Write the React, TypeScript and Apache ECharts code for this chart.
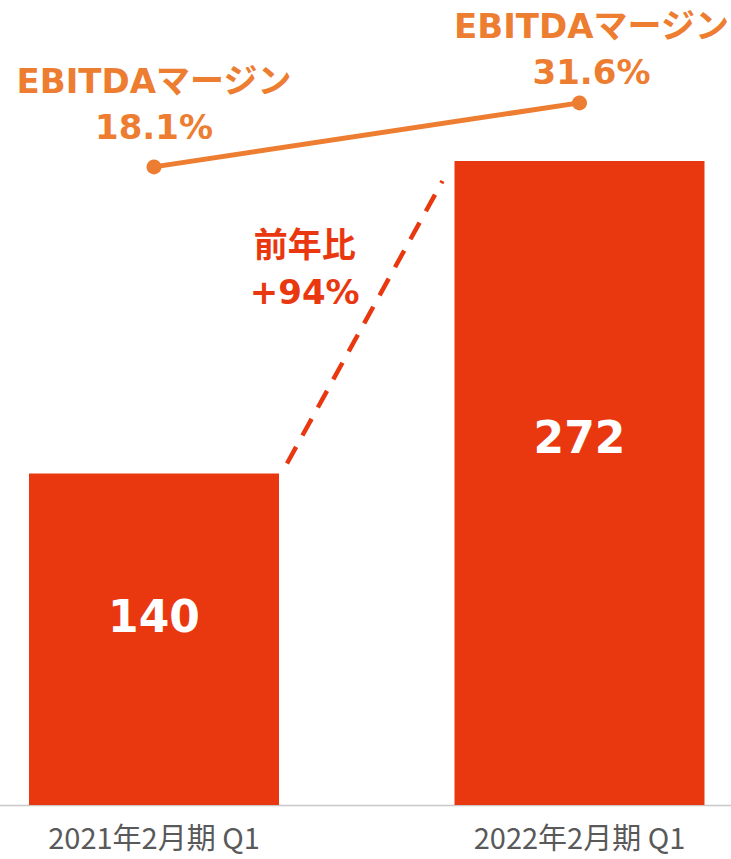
import React, { useEffect, useRef } from "react";
import * as echarts from "echarts";

const categories = ["2021年2月期 Q1", "2022年2月期 Q1"];
const ebitda = [140, 272];
const margin = [18.1, 31.6];
const marginTitle = "EBITDAマージン";
const yoyTitle = "前年比";
const yoyValue = "+94%";

const RED = "#E9380F";
const ORANGE = "#ED7D31";
const BOLD_FONT = "'DejaVu Sans', 'Noto Sans CJK JP', sans-serif";

export default function App() {
  const ref = useRef<HTMLDivElement>(null);
  useEffect(() => {
    if (!ref.current) return;
    const chart = echarts.init(ref.current, undefined, { renderer: "svg" });
    const labelStyle = {
      show: true,
      position: "top",
      distance: 9,
      color: ORANGE,
      fontFamily: BOLD_FONT,
      fontWeight: "bold",
      fontSize: 34,
      lineHeight: 46,
      align: "center",
      formatter: (p: any) => `${marginTitle}\n${p.value}%`,
    };
    chart.setOption({
      animation: false,
      grid: { left: 154, right: 151.5, top: 0, bottom: 54 },
      xAxis: {
        type: "category",
        data: categories,
        boundaryGap: false,
        axisLine: { show: false },
        axisTick: { show: false },
        axisLabel: {
          color: "#595959",
          fontSize: 29,
          lineHeight: 29,
          margin: 16,
          interval: 0,
          fontFamily: "'Noto Sans CJK JP', sans-serif",
        },
      },
      yAxis: [
        { type: "value", min: 0, max: 340, show: false, splitLine: { show: false } },
        { type: "value", min: -116.5, max: 53.3, show: false, splitLine: { show: false } },
      ],
      series: [
        {
          type: "bar",
          data: ebitda,
          barWidth: 250,
          itemStyle: { color: RED },
          label: {
            show: true,
            position: ["50%", "43%"],
            align: "center",
            verticalAlign: "middle",
            color: "#FFFFFF",
            fontFamily: BOLD_FONT,
            fontWeight: "bold",
            fontSize: 44,
          },
        },
        {
          type: "line",
          yAxisIndex: 1,
          data: [
            { value: margin[0] },
            { value: margin[1], label: { offset: [12, 9] } },
          ],
          symbol: "circle",
          symbolSize: 15,
          lineStyle: { color: ORANGE, width: 5 },
          itemStyle: { color: ORANGE },
          label: labelStyle,
        },
      ],
    });

    const p0 = chart.convertToPixel({ xAxisIndex: 0, yAxisIndex: 0 }, [0, ebitda[0]]) as number[];
    const p1 = chart.convertToPixel({ xAxisIndex: 0, yAxisIndex: 0 }, [1, ebitda[1]]) as number[];
    const base = chart.convertToPixel({ xAxisIndex: 0, yAxisIndex: 0 }, [0, 0]) as number[];
    const half = 125;
    const x0 = p0[0] + half + 8;
    const y0 = p0[1] - 10;
    const x1 = p1[0] - half - 12;
    const y1 = p1[1] + 20;
    const mx = (x0 + x1) / 2;
    const my = (y0 + y1) / 2;
    chart.setOption({
      graphic: [
        {
          type: "line",
          shape: { x1: 0, y1: base[1] + 0.5, x2: 731, y2: base[1] + 0.5 },
          style: { stroke: "#C8C8C8", lineWidth: 1.5 },
          z: 0,
        },
        {
          type: "line",
          shape: { x1: x0, y1: y0, x2: x1, y2: y1 },
          style: { stroke: RED, lineWidth: 4.5, lineDash: [19, 13] },
        },
        {
          type: "text",
          x: mx - 60,
          y: my - 54,
          style: {
            text: `${yoyTitle}\n${yoyValue}`,
            fill: RED,
            font: `bold 34px ${BOLD_FONT}`,
            lineHeight: 47,
            align: "center",
            verticalAlign: "middle",
          },
        },
      ],
    });
    return () => chart.dispose();
  }, []);
  return (
    <div
      ref={ref}
      style={{ position: "fixed", left: 0, top: 0, width: 731, height: 859, background: "#fff" }}
    />
  );
}
